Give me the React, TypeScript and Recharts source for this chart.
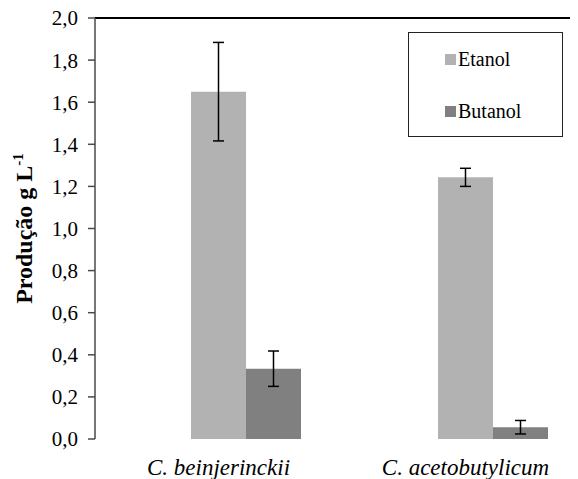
import React from 'react';
import { BarChart, Bar, XAxis, YAxis, ErrorBar, ReferenceLine, Legend } from 'recharts';

const categories = ['C. beinjerinckii', 'C. acetobutylicum'];
const etanol = [1.65, 1.243];
const etanolErr = [0.234, 0.043];
const butanol = [0.334, 0.056];
const butanolErr = [0.084, 0.032];
const yTicks = [0, 0.2, 0.4, 0.6, 0.8, 1.0, 1.2, 1.4, 1.6, 1.8, 2.0];
const seriesInfo = [
  { key: 'etanol', name: 'Etanol', color: '#b2b2b2' },
  { key: 'butanol', name: 'Butanol', color: '#808080' },
];

const data = categories.map((c, i) => ({
  category: c,
  blank: null,
  etanol: etanol[i],
  etanolErr: etanolErr[i],
  butanol: butanol[i],
  butanolErr: butanolErr[i],
}));

const serif = 'Liberation Serif, Times New Roman, DejaVu Serif, serif';
const axisColor = '#4a4a4a';

const YLabel = (props: any) => {
  const vb = props.viewBox || { x: 0, y: 18, width: 87, height: 421 };
  const cy = vb.y + vb.height / 2;
  const cx = 24;
  return (
    <text
      x={cx}
      y={cy}
      transform={`rotate(-90, ${cx}, ${cy})`}
      textAnchor="middle"
      style={{ fontFamily: serif }}
      fontWeight="bold"
      fontSize={24}
      fill="#000"
    >
      Produção g L<tspan fontSize={15} dy={-9}>-1</tspan>
    </text>
  );
};

const LegendBox = () => (
  <div
    style={{
      width: 155,
      height: 105,
      boxSizing: 'border-box',
      border: '1.5px solid #222',
      background: '#fff',
      paddingLeft: 36,
      paddingTop: 14,
      fontFamily: serif,
      fontSize: 20,
      color: '#000',
    }}
  >
    {seriesInfo.map((s, i) => (
      <div
        key={s.key}
        style={{ display: 'flex', alignItems: 'center', height: 24, marginBottom: i === 0 ? 28 : 0 }}
      >
        <span style={{ width: 11, height: 11, background: s.color, display: 'inline-block', marginRight: 2 }} />
        <span style={{ lineHeight: '24px', fontFamily: serif }}>{s.name}</span>
      </div>
    ))}
  </div>
);

export default function App() {
  return (
    <div style={{ width: 570, height: 479, marginTop: -8, overflow: 'hidden', position: 'relative', fontFamily: serif }}>
      <BarChart
        width={600}
        height={479}
        data={data}
        margin={{ top: 18, right: 19, left: 0, bottom: 0 }}
        barSize={55}
        barGap={0}
        style={{ fontFamily: serif }}
      >
        <XAxis
          xAxisId="bounds"
          type="number"
          domain={[0, 2]}
          ticks={[0, 1, 2]}
          tick={false}
          height={0}
          tickSize={7}
          stroke={axisColor}
          axisLine={{ stroke: axisColor, strokeWidth: 1.5 }}
          tickLine={{ stroke: axisColor, strokeWidth: 1.5 }}
        />
        <XAxis
          dataKey="category"
          height={40}
          axisLine={false}
          tickLine={false}
          tickSize={7}
          tickMargin={13}
          tick={{ fontFamily: serif, fontSize: 23, fontStyle: 'italic', fill: '#000', style: { fontFamily: serif } }}
          interval={0}
        />
        <YAxis
          domain={[0, 2]}
          ticks={yTicks}
          interval={0}
          width={87}
          tickSize={7}
          tickMargin={10}
          tickFormatter={(v: number) => v.toFixed(1).replace('.', ',')}
          tick={{ fontFamily: serif, fontSize: 21, fill: '#000', style: { fontFamily: serif } }}
          axisLine={{ stroke: axisColor, strokeWidth: 1.5 }}
          tickLine={{ stroke: axisColor, strokeWidth: 1.5 }}
          label={<YLabel />}
        />
        <ReferenceLine y={2} stroke="#000" strokeWidth={2} />
        <Legend
          layout="vertical"
          align="center"
          verticalAlign="middle"
          wrapperStyle={{ position: 'absolute', left: 400, top: 32, width: 155, height: 105 }}
          content={() => <LegendBox />}
        />
        <Bar dataKey="blank" fill="none" legendType="none" isAnimationActive={false} />
        <Bar dataKey="etanol" name="Etanol" fill={seriesInfo[0].color} isAnimationActive={false}>
          <ErrorBar dataKey="etanolErr" width={5.5} stroke="#000" strokeWidth={1.5} />
        </Bar>
        <Bar dataKey="butanol" name="Butanol" fill={seriesInfo[1].color} isAnimationActive={false}>
          <ErrorBar dataKey="butanolErr" width={5.5} stroke="#000" strokeWidth={1.5} />
        </Bar>
      </BarChart>
    </div>
  );
}
